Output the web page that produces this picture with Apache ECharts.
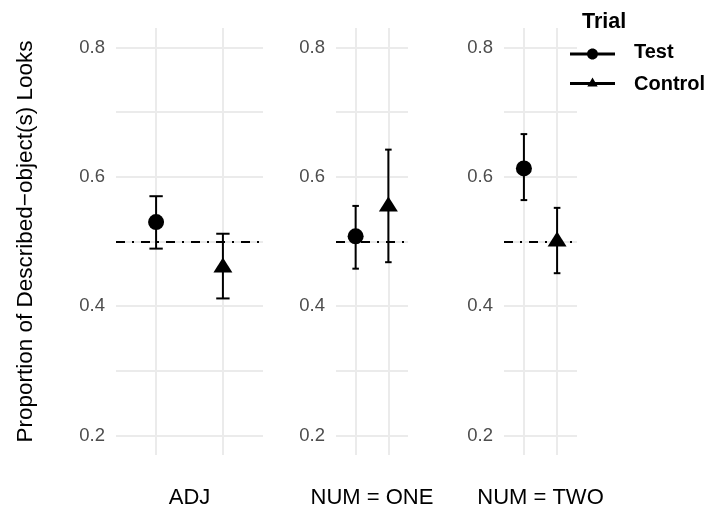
<!DOCTYPE html>
<html><head><meta charset="utf-8">
<script src="https://cdn.jsdelivr.net/npm/echarts@6/dist/echarts.min.js"></script>
<style>html,body{margin:0;padding:0;background:#fff}#c{width:707px;height:507px}</style>
</head><body><div id="c"></div>
<script>
// ---- data ----
const facets = ['ADJ', 'NUM = ONE', 'NUM = TWO'];
const trials = ['Test', 'Control'];
const trialX = [1, 2];
const testMean = [0.530, 0.508, 0.613];
const testLow = [0.489, 0.458, 0.564];
const testHigh = [0.570, 0.555, 0.666];
const controlMean = [0.460, 0.554, 0.500];
const controlLow = [0.412, 0.468, 0.451];
const controlHigh = [0.512, 0.642, 0.552];
const refLevel = 0.5;
const yTickLabels = ['0.2', '0.4', '0.6', '0.8'];
const yTitle = 'Proportion of Described\u2212object(s) Looks';
const legendTitle = 'Trial';

// ---- layout / style ----
const FONT = "'Liberation Sans', Arial, Helvetica, sans-serif";
const panels = [{left: 116, width: 147}, {left: 336, width: 72}, {left: 504, width: 73}];
const PANEL_TOP = 28, PANEL_H = 427;
const GRID_COLOR = '#EBEBEB';
const CAP = 0.2;

const means = {Test: testMean, Control: controlMean};
const lows = {Test: testLow, Control: controlLow};
const highs = {Test: testHigh, Control: controlHigh};

function errRender(params, api) {
  const x = api.value(0), lo = api.value(1), hi = api.value(2);
  const pLo = api.coord([x, lo]), pHi = api.coord([x, hi]);
  const half = api.coord([x + CAP / 2, lo])[0] - pLo[0];
  const style = {stroke: '#000', lineWidth: 2, fill: null};
  return {type: 'group', children: [
    {type: 'line', shape: {x1: pLo[0], y1: pLo[1], x2: pHi[0], y2: pHi[1]}, style},
    {type: 'line', shape: {x1: pLo[0] - half, y1: pLo[1], x2: pLo[0] + half, y2: pLo[1]}, style},
    {type: 'line', shape: {x1: pHi[0] - half, y1: pHi[1], x2: pHi[0] + half, y2: pHi[1]}, style}
  ]};
}

const grids = [], xAxes = [], yAxes = [], series = [];
facets.forEach((f, i) => {
  grids.push({left: panels[i].left, width: panels[i].width, top: PANEL_TOP, height: PANEL_H,
    containLabel: false, outerBoundsMode: 'none'});
  xAxes.push({
    type: 'value', gridIndex: i, min: 0.4, max: 2.6, splitNumber: 2,
    axisLine: {show: false}, axisTick: {show: false}, axisLabel: {show: false},
    splitLine: {show: true, showMinLine: false, showMaxLine: false, lineStyle: {color: GRID_COLOR, width: 2}},
    name: f, nameLocation: 'middle', nameGap: 32,
    nameTextStyle: {fontSize: 22, color: '#000', fontFamily: FONT}
  });
  const y = {
    type: 'value', gridIndex: i, min: 0.17, max: 0.83, splitNumber: 5,
    axisLine: {show: false}, axisTick: {show: false},
    axisLabel: {
      margin: 11, fontSize: 18.5, color: '#4D4D4D', fontFamily: FONT,
      showMinLabel: false, showMaxLabel: false,
      formatter: v => {
        const s = v.toFixed(1);
        return (Math.abs(v - parseFloat(s)) < 1e-9 && yTickLabels.includes(s)) ? s : '';
      }
    },
    splitLine: {show: true, showMinLine: false, showMaxLine: false, lineStyle: {color: GRID_COLOR, width: 2}}
  };
  if (i === 0) {
    Object.assign(y, {name: yTitle, nameLocation: 'middle', nameGap: 79, nameRotate: 90,
      nameTextStyle: {fontSize: 22.5, color: '#000', fontFamily: FONT}});
  }
  yAxes.push(y);

  trials.forEach((t, k) => {
    const s = {
      name: t, type: 'custom', xAxisIndex: i, yAxisIndex: i, z: 2,
      renderItem: errRender, encode: {x: 0, y: [1, 2]},
      data: [[trialX[k], lows[t][i], highs[t][i]]], silent: true
    };
    if (k === 0) {
      s.markLine = {
        silent: true, symbol: 'none', label: {show: false}, z: 1,
        lineStyle: {color: '#000', width: 1.8, type: [9, 7, 2, 7], opacity: 1},
        emphasis: {disabled: true},
        data: [{yAxis: refLevel}]
      };
    }
    series.push(s);
  });
  trials.forEach((t, k) => {
    series.push({
      name: t, type: 'scatter', xAxisIndex: i, yAxisIndex: i, z: 3,
      symbol: k === 0 ? 'circle' : 'triangle',
      symbolSize: k === 0 ? 16 : [19, 15],
      symbolOffset: k === 0 ? [0, 0] : [0, '-16.67%'],
      itemStyle: {color: '#000', opacity: 1},
      data: [[trialX[k], means[t][i]]]
    });
  });
});

// legend keys: 45x15 boxes (zero-area subpaths only fix the bounding box)
const iconTest = 'path://M22.5,0 L22.51,0 Z M0,8 L45,8 L45,11 L0,11 Z M28,9.5 C28,12.5375 25.5375,15 22.5,15 C19.4625,15 17,12.5375 17,9.5 C17,6.4625 19.4625,4 22.5,4 C25.5375,4 28,6.4625 28,9.5 Z';
const iconControl = 'path://M22.5,0 L22.51,0 Z M22.5,15 L22.51,15 Z M0,5.5 L45,5.5 L45,8.5 L0,8.5 Z M22.5,1 L27.7,10 L17.3,10 Z';

const option = {
  animation: false,
  backgroundColor: '#fff',
  title: {text: legendTitle, left: 582, top: 11, padding: 0,
    textStyle: {fontSize: 21.5, fontWeight: 'bold', color: '#000', fontFamily: FONT}},
  legend: {
    orient: 'vertical', left: 570, top: 42, padding: 0, itemGap: 12,
    itemWidth: 73, itemHeight: 15, symbolKeepAspect: true,
    textStyle: {fontSize: 20, fontWeight: 'bold', color: '#000', fontFamily: FONT},
    data: [
      {name: trials[0], icon: iconTest, itemStyle: {color: '#000'}},
      {name: trials[1], icon: iconControl, itemStyle: {color: '#000'}}
    ]
  },
  grid: grids, xAxis: xAxes, yAxis: yAxes, series: series
};
const chart = echarts.init(document.getElementById('c'), null, {renderer: 'canvas'});
chart.setOption(option);
</script></body></html>
